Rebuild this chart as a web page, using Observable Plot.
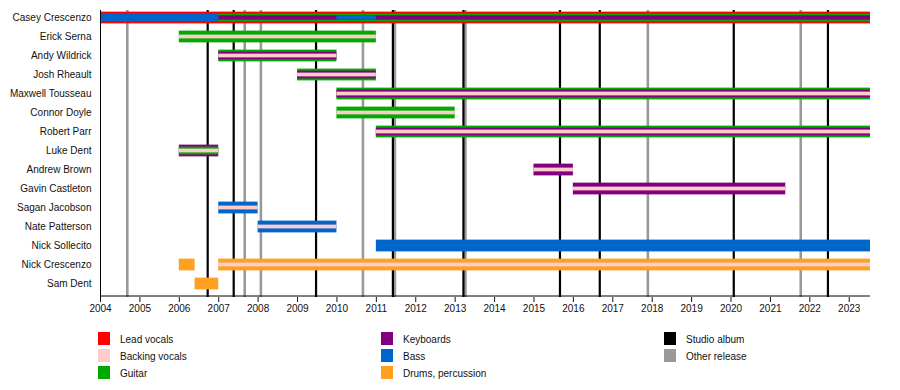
<!DOCTYPE html>
<html>
<head>
<meta charset="utf-8">
<script src="https://cdn.jsdelivr.net/npm/d3@7"></script>
<script src="https://cdn.jsdelivr.net/npm/@observablehq/plot@0.6"></script>
<style>
  body { margin: 0; background: #fff; font-family: "Liberation Sans", Arial, sans-serif; }
  #wrap { position: relative; width: 900px; height: 390px; }
  #legend { position: relative; width: 900px; height: 70px; font-size: 10px; color: #111; }
  .item { position: absolute; height: 13px; }
  .sw { position: absolute; left: 0; top: 0; width: 12px; height: 13px; }
  .lab { position: absolute; left: 22px; top: 1px; line-height: 14px; white-space: nowrap; }
</style>
</head>
<body>
<div id="wrap"><div id="chart"></div><div id="legend"></div></div>
<script>
// ---- data ----
const END = 2023.54; // timeline end ("present")
const members = ["Casey Crescenzo", "Erick Serna", "Andy Wildrick", "Josh Rheault", "Maxwell Tousseau",
  "Connor Doyle", "Robert Parr", "Luke Dent", "Andrew Brown", "Gavin Castleton", "Sagan Jacobson",
  "Nate Patterson", "Nick Sollecito", "Nick Crescenzo", "Sam Dent"];
const roles = ["Lead vocals", "Backing vocals", "Guitar", "Keyboards", "Bass", "Drums, percussion"];
const roleColors = ["#ff0000", "#ffcccc", "#00aa00", "#800080", "#0066cc", "#ffa020"];
const stints = [
  {member: "Casey Crescenzo", role: "Lead vocals", start: 2004, end: END},
  {member: "Casey Crescenzo", role: "Bass", start: 2004, end: 2007},
  {member: "Casey Crescenzo", role: "Guitar", start: 2007, end: END},
  {member: "Casey Crescenzo", role: "Keyboards", start: 2007, end: END},
  {member: "Casey Crescenzo", role: "Bass", start: 2010, end: 2011},
  {member: "Erick Serna", role: "Guitar", start: 2006, end: 2011},
  {member: "Erick Serna", role: "Backing vocals", start: 2006, end: 2011},
  {member: "Andy Wildrick", role: "Guitar", start: 2007, end: 2010},
  {member: "Andy Wildrick", role: "Keyboards", start: 2007, end: 2010},
  {member: "Andy Wildrick", role: "Backing vocals", start: 2007, end: 2010},
  {member: "Josh Rheault", role: "Guitar", start: 2009, end: 2011},
  {member: "Josh Rheault", role: "Keyboards", start: 2009, end: 2011},
  {member: "Josh Rheault", role: "Backing vocals", start: 2009, end: 2011},
  {member: "Maxwell Tousseau", role: "Guitar", start: 2010, end: END},
  {member: "Maxwell Tousseau", role: "Keyboards", start: 2010, end: END},
  {member: "Maxwell Tousseau", role: "Backing vocals", start: 2010, end: END},
  {member: "Connor Doyle", role: "Guitar", start: 2010, end: 2013},
  {member: "Connor Doyle", role: "Backing vocals", start: 2010, end: 2013},
  {member: "Robert Parr", role: "Guitar", start: 2011, end: END},
  {member: "Robert Parr", role: "Keyboards", start: 2011, end: END},
  {member: "Robert Parr", role: "Backing vocals", start: 2011, end: END},
  {member: "Luke Dent", role: "Keyboards", start: 2006, end: 2007},
  {member: "Luke Dent", role: "Guitar", start: 2006, end: 2007},
  {member: "Luke Dent", role: "Backing vocals", start: 2006, end: 2007},
  {member: "Andrew Brown", role: "Keyboards", start: 2015, end: 2016},
  {member: "Andrew Brown", role: "Backing vocals", start: 2015, end: 2016},
  {member: "Gavin Castleton", role: "Keyboards", start: 2016, end: 2021.39},
  {member: "Gavin Castleton", role: "Backing vocals", start: 2016, end: 2021.39},
  {member: "Sagan Jacobson", role: "Bass", start: 2007, end: 2008},
  {member: "Sagan Jacobson", role: "Backing vocals", start: 2007, end: 2008},
  {member: "Nate Patterson", role: "Bass", start: 2008, end: 2010},
  {member: "Nate Patterson", role: "Backing vocals", start: 2008, end: 2010},
  {member: "Nick Sollecito", role: "Bass", start: 2011, end: END},
  {member: "Nick Crescenzo", role: "Drums, percussion", start: 2006, end: 2006.4},
  {member: "Nick Crescenzo", role: "Drums, percussion", start: 2007, end: END},
  {member: "Nick Crescenzo", role: "Backing vocals", start: 2007, end: END},
  {member: "Sam Dent", role: "Drums, percussion", start: 2006.4, end: 2007}
];
const studioAlbums = [2006.72, 2007.38, 2009.47, 2011.42, 2013.21, 2015.66, 2016.67, 2020.07, 2022.46];
const otherReleases = [2004.68, 2007.66, 2008.07, 2010.66, 2011.47, 2013.26, 2017.89, 2021.77];
const years = d3.range(2004, 2024);
const eventTypes = ["Studio album", "Other release"];
const eventColors = ["#000000", "#999999"];

// ---- layout ----
const H = 320, MT = 10, MB = 23, ML = 100, MR = 30;
const yRange = [6.19, 294.6];
const bw = (yRange[1] - yRange[0]) / members.length;
const inset = h => (bw - h) / 2;

// nesting depth: how many earlier stints of the same member overlap this one
const data = stints.map((d, i) => ({
  ...d,
  depth: stints.slice(0, i).filter(e => e.member === d.member && e.start < d.end && d.start < e.end).length
}));
const isBV = d => d.role === "Backing vocals";
const layers = [
  {rows: data.filter(d => !isBV(d) && d.depth === 0), h: 12},
  {rows: data.filter(d => !isBV(d) && d.depth === 1), h: 8},
  {rows: data.filter(d => !isBV(d) && d.depth >= 2), h: 4.5},
  {rows: data.filter(isBV), h: 4}
];

const chart = Plot.plot({
  width: 900, height: H,
  marginTop: MT, marginBottom: MB, marginLeft: ML, marginRight: MR,
  style: {fontFamily: "'Liberation Sans', Arial, sans-serif", fontSize: "10px", color: "#111", background: "#fff"},
  x: {domain: [2004, END]},
  y: {domain: members, range: yRange, padding: 0},
  color: {domain: roles, range: roleColors},
  marks: [
    Plot.ruleX(otherReleases, {x: d => d, stroke: eventColors[1], strokeWidth: 2.6}),
    Plot.ruleX(studioAlbums, {x: d => d, stroke: eventColors[0], strokeWidth: 2.2}),
    ...layers.map(L => Plot.barX(L.rows, {
      x1: "start", x2: "end", y: "member", fill: "role",
      insetTop: inset(L.h), insetBottom: inset(L.h)
    })),
    Plot.ruleX([2004], {stroke: "#000", strokeWidth: 1}),
    Plot.ruleY([members[members.length - 1]], {dy: (H - MB) - (yRange[1] - bw / 2), stroke: "#000", strokeWidth: 1}),
    Plot.axisX(years, {tickSize: 5, tickPadding: 2, fontSize: 10, tickFormat: d => String(d), anchor: "bottom", label: null}),
    Plot.axisY({tickSize: 0, tickPadding: 9, fontSize: 10, anchor: "left", label: null})
  ]
});
document.getElementById("chart").appendChild(chart);

// ---- legend (HTML below the SVG) ----
const legendItems = roles.map((r, i) => ({label: r, color: roleColors[i]}))
  .concat(eventTypes.map((t, i) => ({label: t, color: eventColors[i]})));
const legend = document.getElementById("legend");
legendItems.forEach((it, i) => {
  const col = Math.floor(i / 3), row = i % 3;
  const el = document.createElement("div");
  el.className = "item";
  el.style.left = (98 + col * 283) + "px";
  el.style.top = (12 + row * 17) + "px";
  el.innerHTML = `<div class="sw" style="background:${it.color}"></div><div class="lab"></div>`;
  el.querySelector(".lab").textContent = it.label;
  legend.appendChild(el);
});
</script>
</body>
</html>
